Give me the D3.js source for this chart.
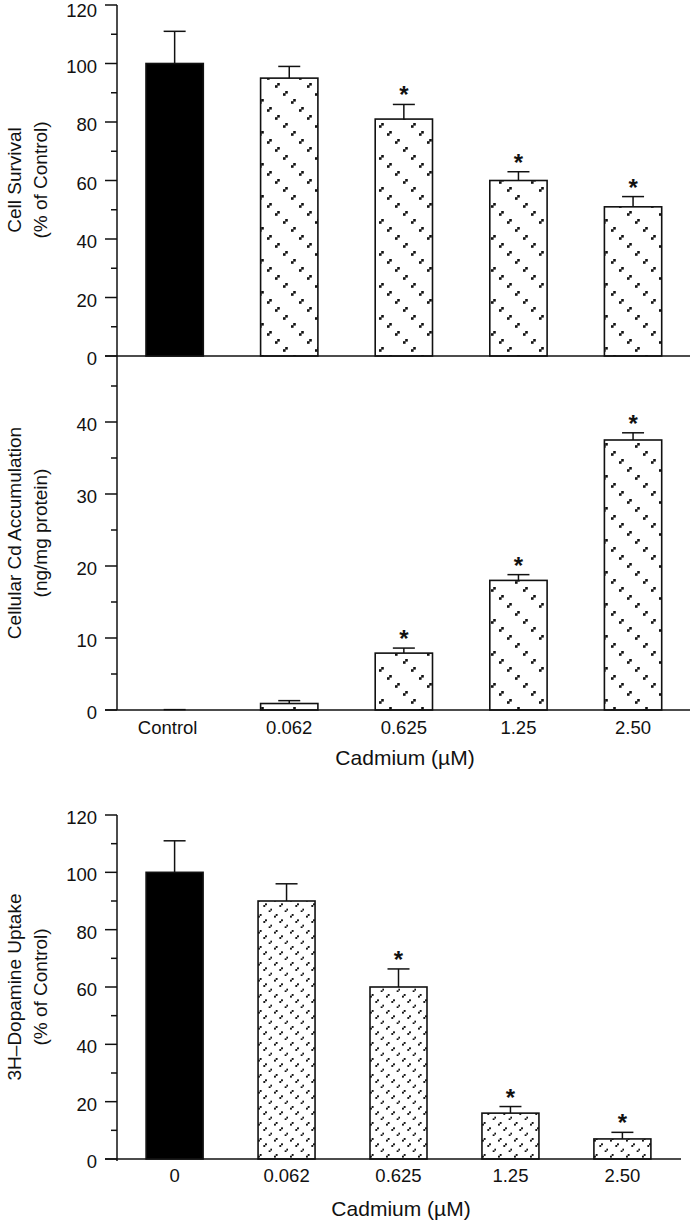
<!DOCTYPE html>
<html><head><meta charset="utf-8">
<script src="https://cdn.jsdelivr.net/npm/d3@7"></script>
<style>
html,body{margin:0;padding:0;background:#fff;}
svg{display:block;font-family:"Liberation Sans",Arial,sans-serif;}
</style></head>
<body>
<svg id="chart" width="690" height="1221"></svg>
<script>
// ---- data ----
const categoriesTop = ["Control", "0.062", "0.625", "1.25", "2.50"];
const survival = [100, 95, 81, 60, 51];
const survivalErr = [11, 4, 5, 3, 3.5];
const survivalSig = [false, false, true, true, true];

const accumulation = [0, 0.9, 7.9, 18.0, 37.5];
const accumulationErr = [0.05, 0.4, 0.7, 0.8, 1.0];
const accumulationSig = [false, false, true, true, true];

const categoriesBottom = ["0", "0.062", "0.625", "1.25", "2.50"];
const uptake = [100, 90, 60, 16, 7];
const uptakeErr = [11, 6, 6.3, 2.3, 2.3];
const uptakeSig = [false, false, true, true, true];

const ticksPct = [0, 20, 40, 60, 80, 100, 120];
const minorPct = [10, 30, 50, 70, 90, 110];
const ticksAcc = [0, 10, 20, 30, 40];
const minorAcc = [5, 15, 25, 35, 45];

const xTitle = "Cadmium (\u00B5M)";

// ---- drawing ----
const svg = d3.select("#chart");
const ink = "#111";
const defs = svg.append("defs");

// sparse dash pattern (top & middle)
const p1 = defs.append("pattern").attr("id", "patA")
  .attr("patternUnits", "userSpaceOnUse").attr("width", 32).attr("height", 32);
p1.append("rect").attr("width", 32).attr("height", 32).attr("fill", "#fff");
[0, 1, 2, 3].forEach(k => {
  const x = 3 + k * 8, y = 3 + k * 8;
  p1.append("rect").attr("x", x).attr("y", y + 2.2).attr("width", 2.6).attr("height", 2.6).attr("fill", ink);
  p1.append("rect").attr("x", x + 2.2).attr("y", y).attr("width", 2.6).attr("height", 2.6).attr("fill", ink);
});
// denser, finer pattern (bottom)
const p2 = defs.append("pattern").attr("id", "patB")
  .attr("patternUnits", "userSpaceOnUse").attr("width", 16).attr("height", 16);
p2.append("rect").attr("width", 16).attr("height", 16).attr("fill", "#fff");
[0, 1, 2].forEach(k => {
  const x = 2 + k * 16 / 3, y = 2 + k * 16 / 3;
  p2.append("rect").attr("x", x).attr("y", y + 1.7).attr("width", 1.9).attr("height", 1.9).attr("fill", ink);
  p2.append("rect").attr("x", x + 1.7).attr("y", y).attr("width", 1.9).attr("height", 1.9).attr("fill", ink);
});

const axisX = 117;
const xTop = d3.scaleBand().domain(categoriesTop).range([117, 690.7])
  .paddingInner(0.5).paddingOuter(0.253);
const xBot = d3.scaleBand().domain(categoriesBottom).range([117, 680])
  .paddingInner(0.491).paddingOuter(0.26);

const yTop = d3.scaleLinear().domain([0, 120]).range([356, 5]);
const yMid = d3.scaleLinear().domain([0, 40]).range([710, 422]);
const yBot = d3.scaleLinear().domain([0, 120]).range([1159, 815]);

function yAxis(scale, major, minor, yTopPx, yBotPx) {
  const g = svg.append("g");
  g.append("line").attr("x1", axisX).attr("x2", axisX).attr("y1", yTopPx).attr("y2", yBotPx)
    .attr("stroke", ink).attr("stroke-width", 1.5);
  major.forEach(v => {
    g.append("line").attr("x1", axisX - 12).attr("x2", axisX).attr("y1", scale(v)).attr("y2", scale(v))
      .attr("stroke", ink).attr("stroke-width", 1.5);
    g.append("text").attr("x", 97).attr("y", Math.max(scale(v) + 9, 17))
      .attr("text-anchor", "end").attr("font-size", 18.5).attr("fill", ink).text(v);
  });
  minor.forEach(v => {
    g.append("line").attr("x1", axisX - 6).attr("x2", axisX).attr("y1", scale(v)).attr("y2", scale(v))
      .attr("stroke", ink).attr("stroke-width", 1.5);
  });
}

function bars(x, y, cats, vals, errs, sig, fill0, fill) {
  const g = svg.append("g");
  const bw = x.bandwidth();
  cats.forEach((c, i) => {
    const cx = x(c) + bw / 2;
    const y0 = y(0), yv = y(vals[i]), ye = y(vals[i] + errs[i]);
    g.append("line").attr("x1", cx).attr("x2", cx).attr("y1", yv).attr("y2", ye)
      .attr("stroke", ink).attr("stroke-width", 1.5);
    g.append("line").attr("x1", cx - 11).attr("x2", cx + 11).attr("y1", ye).attr("y2", ye)
      .attr("stroke", ink).attr("stroke-width", 1.5);
    if (vals[i] > 0) {
      g.append("rect").attr("x", x(c)).attr("y", yv).attr("width", bw).attr("height", y0 - yv)
        .attr("fill", i === 0 ? fill0 : fill).attr("stroke", ink).attr("stroke-width", 1.6);
    }
    if (sig[i]) {
      g.append("text").attr("x", cx).attr("y", ye - 1).attr("text-anchor", "middle")
        .attr("font-size", 24).attr("font-weight", "bold").attr("fill", ink).text("*");
    }
  });
}

function xBaseline(yPx, x2) {
  svg.append("line").attr("x1", 105).attr("x2", x2).attr("y1", yPx).attr("y2", yPx)
    .attr("stroke", ink).attr("stroke-width", 1.5);
}

function yTitle(lines, cy) {
  lines.forEach((t, i) => {
    svg.append("text").attr("transform", `translate(${21 + i * 26},${cy}) rotate(-90)`)
      .attr("text-anchor", "middle").attr("font-size", 19).attr("fill", ink).text(t);
  });
}

// Top chart: cell survival
bars(xTop, yTop, categoriesTop, survival, survivalErr, survivalSig, "#000", "url(#patA)");
yAxis(yTop, ticksPct, minorPct, 5, 356);
xBaseline(356, 690);
yTitle(["Cell Survival", "(% of Control)"], 180);

// Middle chart: Cd accumulation
bars(xTop, yMid, categoriesTop, accumulation, accumulationErr, accumulationSig, "#000", "url(#patA)");
yAxis(yMid, ticksAcc, minorAcc, 356, 710);
xBaseline(710, 690);
yTitle(["Cellular Cd Accumulation", "(ng/mg protein)"], 533);
categoriesTop.forEach(c => {
  svg.append("text").attr("x", xTop(c) + xTop.bandwidth() / 2 - (c === "Control" ? 7 : 0)).attr("y", 734)
    .attr("text-anchor", "middle").attr("font-size", 18.5).attr("fill", ink).text(c);
});
svg.append("text").attr("x", 405).attr("y", 765).attr("text-anchor", "middle")
  .attr("font-size", 21).attr("fill", ink).text(xTitle);

// Bottom chart: dopamine uptake
bars(xBot, yBot, categoriesBottom, uptake, uptakeErr, uptakeSig, "#000", "url(#patB)");
yAxis(yBot, ticksPct, minorPct, 815, 1161);
xBaseline(1159, 681);
yTitle(["3H\u2013Dopamine Uptake", "(% of Control)"], 987);
categoriesBottom.forEach(c => {
  svg.append("text").attr("x", xBot(c) + xBot.bandwidth() / 2).attr("y", 1182)
    .attr("text-anchor", "middle").attr("font-size", 18.5).attr("fill", ink).text(c);
});
svg.append("text").attr("x", 401).attr("y", 1216).attr("text-anchor", "middle")
  .attr("font-size", 21).attr("fill", ink).text(xTitle);
</script>
</body></html>
